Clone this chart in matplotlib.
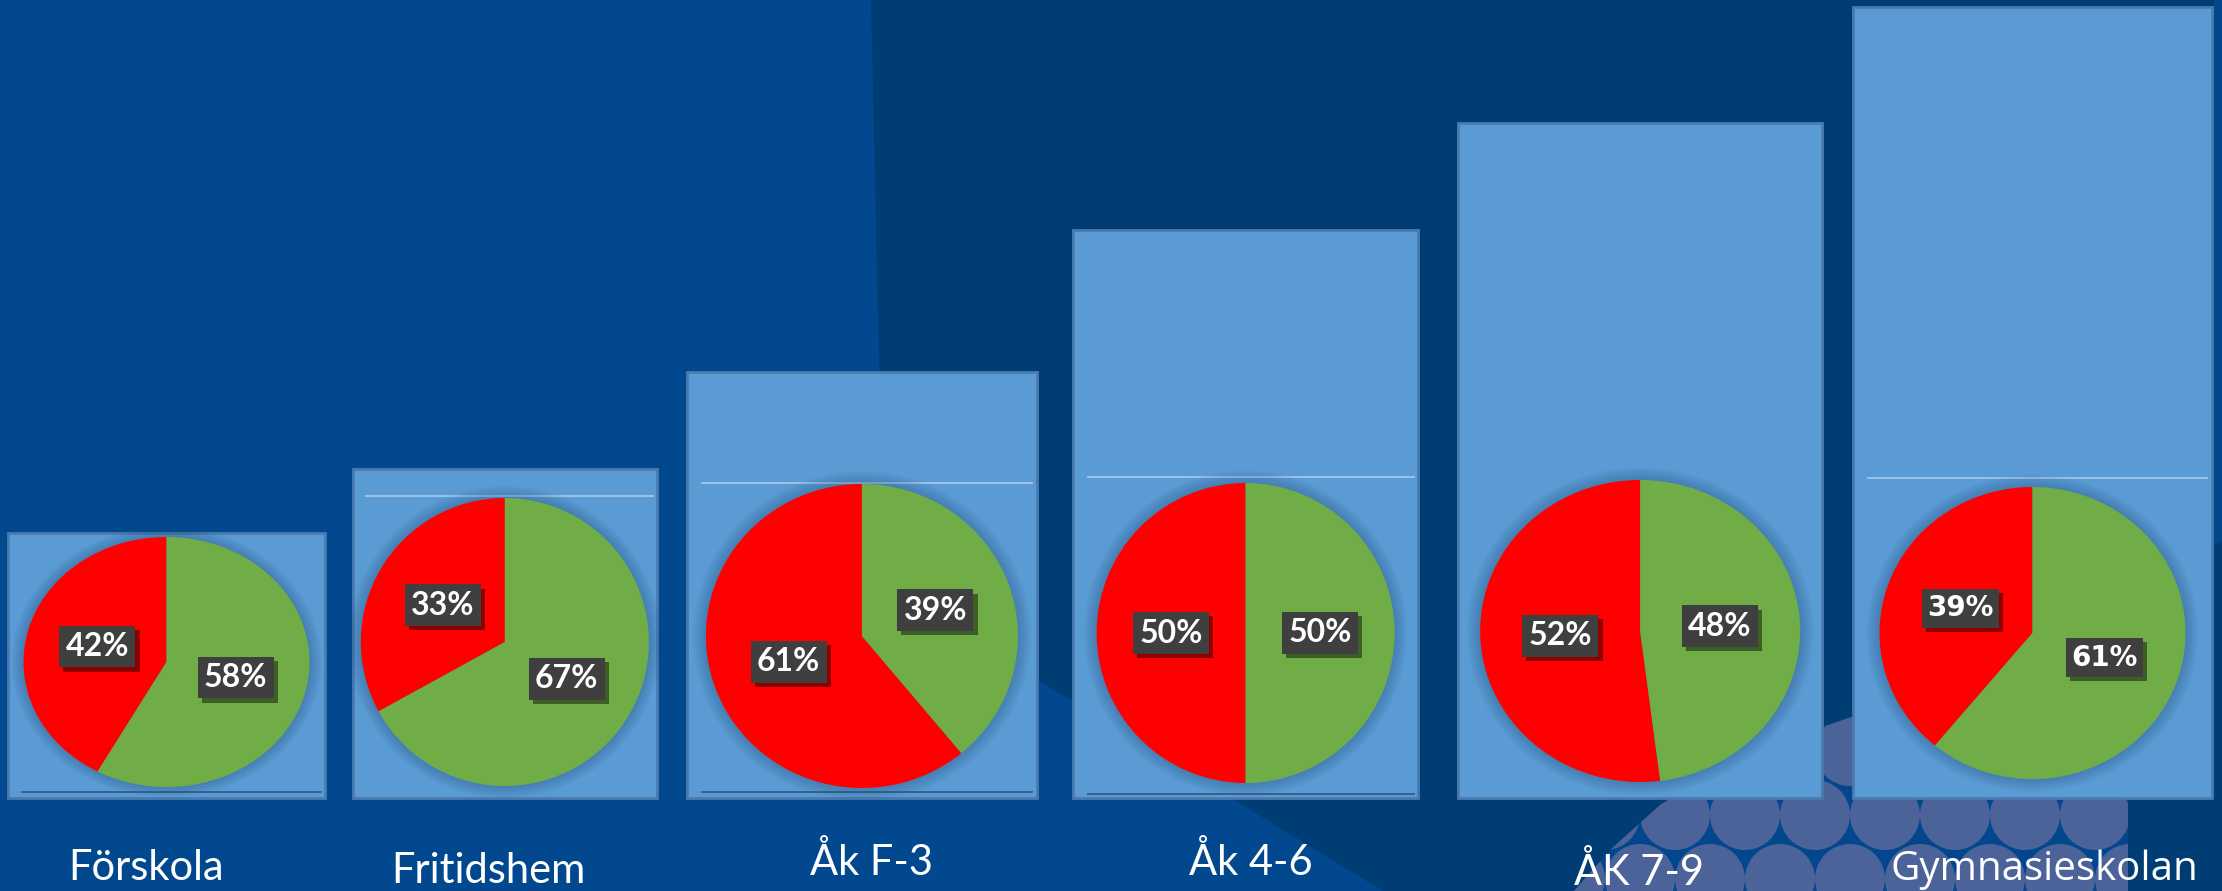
import numpy as np
import matplotlib
matplotlib.use("Agg")
import matplotlib.pyplot as plt
import matplotlib.patheffects as pe
from matplotlib.patches import Polygon, Ellipse, Rectangle, Circle

# ---- data ----
categories = ["Förskola", "Fritidshem", "Åk F-3", "Åk 4-6", "ÅK 7-9", "Gymnasieskolan"]
bar_values = [33.5, 41.6, 53.9, 71.8, 85.3, 100.0]   # relative height of the blue boxes
red_share = [42, 33, 61, 50, 52, 39]
green_share = [58, 67, 39, 50, 48, 61]

# ---- layout (pixels of the 2222x891 canvas) ----
W, H = 2222, 891
STEP = 374.7        # px per category slot
X0 = 138            # px of slot 0 centre
BASE = 93           # px from bottom to bar baseline
PXU = 7.91          # px per value unit

bar_nudge = [0.076, -0.021, -0.068, -0.044, 0.009, 0.056]
bar_width = [0.846, 0.811, 0.934, 0.921, 0.971, 0.958]

pie_cy = [136, 156, 162, 165, 167, 165]      # px above baseline
pie_rx = [143, 144, 156, 149, 160, 153]
pie_ry = [125, 144, 152, 150, 151, 146]
pie_font = ["Lato", "Lato", "Lato", "Lato", "Lato", "DejaVu Sans"]
pie_fsize = [23, 23, 23, 23, 23, 20]

top_line = [None, 302, 315, 321, None, 320]  # light inner line, px above baseline
bottom_line = [6, None, 6, 4, None, None]

label_dx = [-20, -16, 10, 5, -1, 12]         # px
label_base = [880, 883, 875, 875, 885, 880]  # px from top
label_font = ["Lato", "Lato", "Lato", "Lato", "Lato", "Open Sans"]
label_size = [30, 30, 30, 30, 30, 29]

LIGHT_BG = "#01488F"
DARK_BG = "#003D74"
BAR_BLUE = "#5B9BD5"
RED = "#FF0000"
GREEN = "#70AD47"

fig = plt.figure(figsize=(W / 100, H / 100), dpi=100)

# ---- background ----
bg = fig.add_axes([0, 0, 1, 1], zorder=0)
bg.set_xlim(0, W)
bg.set_ylim(H, 0)
bg.axis("off")
bg.add_patch(Rectangle((0, 0), W, H, color=LIGHT_BG, lw=0))
bg.add_patch(Polygon([(871, 0), (W, 0), (W, H), (1383, H), (884, 586)],
                     closed=True, color=DARK_BG, lw=0))
bg.add_patch(Polygon([(2214, 0), (W, 0), (W, 540), (2214, 545)],
                     closed=True, color=LIGHT_BG, lw=0))

# decorative patterned blob at bottom right
blob = Polygon([(1574, H), (1610, 850), (1660, 805), (1720, 768), (1790, 738),
                (1860, 714), (2128, 700), (2128, H)], closed=True,
               fc="#02478E", lw=0)
bg.add_patch(blob)
r = 35
for k, yc in enumerate(np.arange(623, 960, 64)):
    shift = 0 if k % 2 == 0 else 35
    for xc in np.arange(1500 + shift, 2200, 70):
        c = Circle((xc, yc), r, fc="#4B6399", lw=0)
        bg.add_patch(c)
        c.set_clip_path(blob)

# ---- bars ----
ax = fig.add_axes([0, 0, 1, 1], zorder=1)
ax.patch.set_alpha(0)
ax.set_xlim(-X0 / STEP, (W - X0) / STEP)
ax.set_ylim(-BASE / PXU, (H - BASE) / PXU)
ax.axis("off")

xpos = np.arange(len(categories)) + np.array(bar_nudge)
ax.bar(xpos, bar_values, width=bar_width, color=BAR_BLUE,
       edgecolor="#4A7BAF", linewidth=2, zorder=1)

for i, x in enumerate(xpos):
    left = x - bar_width[i] / 2
    right = x + bar_width[i] / 2
    if top_line[i] is not None:
        ax.hlines(top_line[i] / PXU, left + 0.04 * bar_width[i],
                  right - 0.01 * bar_width[i], color="#A9CBEA", lw=1.2, zorder=2)
    if bottom_line[i] is not None:
        ax.hlines(bottom_line[i] / PXU, left + 0.04 * bar_width[i],
                  right - 0.01 * bar_width[i], color="#34587E", lw=1.2, zorder=2)

    # pie inside the box
    m = 1.12
    wx = pie_rx[i] / STEP
    wy = pie_ry[i] / PXU
    cy = pie_cy[i] / PXU
    pax = ax.inset_axes([x - m * wx, cy - m * wy, 2 * m * wx, 2 * m * wy],
                        transform=ax.transData)
    for k in range(1, 7):
        s = 1 + 0.014 * k
        pax.add_patch(Ellipse((0, 0), 2 * s, 2 * s, fc="#1F4E79", alpha=0.06, lw=0))
    wedges, texts, autotexts = pax.pie(
        [red_share[i], green_share[i]], colors=[RED, GREEN], startangle=90,
        counterclock=True, radius=1, autopct=lambda p: f"{p:.0f}%",
        pctdistance=0.5, wedgeprops=dict(linewidth=0))
    pax.set_aspect("auto")
    pax.set_xlim(-m, m)
    pax.set_ylim(-m, m)
    pax.axis("off")
    for t in autotexts:
        t.set_color("white")
        t.set_fontsize(pie_fsize[i])
        t.set_fontweight("bold")
        t.set_fontfamily(pie_font[i])
        t.set_bbox(dict(boxstyle="square,pad=0.2", fc="#3F3F3F", ec="none"))
        t.get_bbox_patch().set_path_effects(
            [pe.withSimplePatchShadow(offset=(3, -3), shadow_rgbFace="black", alpha=0.45)])

    ax.text(x + label_dx[i] / STEP, ((H - BASE) - label_base[i]) / PXU, categories[i],
            ha="center", va="baseline", color="white", fontsize=label_size[i],
            fontfamily=label_font[i])

fig.savefig("out.png", dpi=100, facecolor=LIGHT_BG)
